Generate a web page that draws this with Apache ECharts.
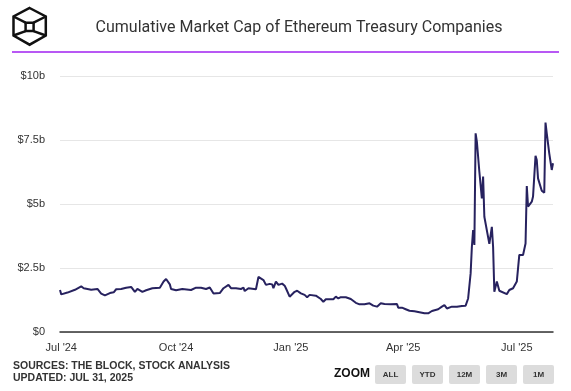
<!DOCTYPE html>
<html>
<head>
<meta charset="utf-8">
<script src="https://cdn.jsdelivr.net/npm/echarts@6/dist/echarts.min.js"></script>
<style>html,body{margin:0;padding:0;background:#fff;}#c{width:571px;height:391px;}</style>
</head>
<body>
<div id="c"></div>
<script>
const dates = [
'2024-06-30','2024-07-01','2024-07-06','2024-07-12','2024-07-17','2024-07-19','2024-07-25','2024-07-30',
'2024-08-02','2024-08-05','2024-08-09','2024-08-12','2024-08-14','2024-08-18','2024-08-22','2024-08-26','2024-08-29','2024-08-31',
'2024-09-04','2024-09-07','2024-09-12','2024-09-18','2024-09-21','2024-09-23','2024-09-26','2024-09-27',
'2024-10-01','2024-10-06','2024-10-13','2024-10-17','2024-10-21','2024-10-25','2024-10-28','2024-10-31',
'2024-11-05','2024-11-08','2024-11-12','2024-11-14','2024-11-18','2024-11-22','2024-11-24','2024-11-25','2024-11-28',
'2024-12-04','2024-12-06','2024-12-10','2024-12-12','2024-12-15','2024-12-17','2024-12-18','2024-12-20','2024-12-22','2024-12-25','2024-12-27','2024-12-28','2024-12-31',
'2025-01-04','2025-01-06','2025-01-09','2025-01-12','2025-01-14','2025-01-16','2025-01-21','2025-01-25','2025-01-27','2025-01-29',
'2025-02-04','2025-02-06','2025-02-08','2025-02-10','2025-02-14','2025-02-18','2025-02-22','2025-02-25',
'2025-03-01','2025-03-05','2025-03-08','2025-03-11','2025-03-14','2025-03-17','2025-03-22','2025-03-27','2025-03-28','2025-03-31',
'2025-04-03','2025-04-06','2025-04-10','2025-04-14','2025-04-18','2025-04-21','2025-04-24','2025-04-25','2025-04-29',
'2025-05-02','2025-05-04','2025-05-06','2025-05-10','2025-05-14','2025-05-15','2025-05-18','2025-05-21','2025-05-23','2025-05-25','2025-05-26','2025-05-27','2025-05-28','2025-05-29','2025-05-30',
'2025-06-01','2025-06-03','2025-06-04','2025-06-05','2025-06-06','2025-06-09','2025-06-11','2025-06-12','2025-06-13','2025-06-15','2025-06-17','2025-06-23','2025-06-25','2025-06-28',
'2025-07-01','2025-07-03','2025-07-06','2025-07-08','2025-07-09','2025-07-10','2025-07-13','2025-07-14','2025-07-16','2025-07-17','2025-07-18','2025-07-21','2025-07-22','2025-07-23','2025-07-24','2025-07-25','2025-07-27','2025-07-29','2025-07-30'
];
const marketCapB = [
1.64,1.47,1.54,1.65,1.78,1.71,1.65,1.68,
1.50,1.43,1.52,1.55,1.67,1.68,1.73,1.76,1.57,1.68,
1.57,1.63,1.71,1.73,1.97,2.07,1.86,1.68,
1.63,1.68,1.64,1.73,1.73,1.68,1.74,1.50,
1.52,1.71,1.84,1.71,1.71,1.68,1.73,1.60,1.71,
1.67,2.15,2.03,1.84,1.88,1.86,1.71,1.97,1.84,1.89,1.81,1.71,1.38,
1.57,1.61,1.51,1.45,1.36,1.45,1.42,1.29,1.18,1.28,
1.28,1.38,1.31,1.36,1.36,1.29,1.14,1.08,
1.08,1.12,1.03,0.99,1.12,1.09,1.08,1.09,0.95,0.95,
0.89,0.83,0.81,0.77,0.73,0.73,0.82,0.89,0.89,
0.99,1.05,0.92,0.99,0.99,0.93,1.02,1.03,1.31,2.29,3.33,3.98,3.40,7.76,7.44,
6.26,5.22,6.07,4.50,4.44,3.44,4.11,3.33,1.57,1.97,1.61,1.48,1.64,1.71,
1.97,3.01,3.01,3.46,5.70,4.90,5.09,5.29,6.88,6.72,6.00,5.52,5.57,5.44,8.18,7.76,6.98,6.33,6.59
];
const xTickDates = ['2024-07-01','2024-10-01','2025-01-01','2025-04-01','2025-07-01'];
const xTickLabels = ["Jul '24","Oct '24","Jan '25","Apr '25","Jul '25"];
const yTickValues = [0, 2.5, 5, 7.5, 10];
const yTickLabels = ['$0','$2.5b','$5b','$7.5b','$10b'];
const xMin = '2024-06-30', xMax = '2025-07-30';

const chart = echarts.init(document.getElementById('c'), null, {renderer:'canvas'});
const pd = s => +echarts.number.parseDate(s);
const tickTs = xTickDates.map(pd);
const seriesData = dates.map((d,i)=>[pd(d), marketCapB[i]]);
const txt = '#333333';
const btn = (x,label)=>[
  {type:'rect', shape:{x:x,y:365,width:31,height:19,r:2}, style:{fill:'#dcdcdc'}},
  {type:'text', x:x+15.5, y:375, style:{text:label, fill:'#333', font:'bold 8px "Liberation Sans", Arial', align:'center', verticalAlign:'middle'}}
];
chart.setOption({
  animation:false,
  backgroundColor:'#fff',
  grid:{left:60, right:18, top:76, bottom:59, containLabel:false},
  xAxis:{
    type:'value', min:pd(xMin), max:pd(xMax),
    axisLine:{show:true, lineStyle:{color:'#333', width:1.5}},
    axisTick:{show:false},
    splitLine:{show:false},
    axisLabel:{
      customValues: tickTs,
      color:txt, fontSize:11, fontFamily:'"Liberation Sans", Arial', margin:10,
      formatter:(v)=>{ const i = tickTs.indexOf(+v); return i>=0 ? xTickLabels[i] : ''; }
    }
  },
  yAxis:{
    type:'value', min:0, max:10, interval:2.5,
    axisLine:{show:false}, axisTick:{show:false},
    splitLine:{lineStyle:{color:'#e6e6e6', width:1}},
    axisLabel:{color:txt, fontSize:11, fontFamily:'"Liberation Sans", Arial', margin:15,
      formatter:(v)=>{ const i = yTickValues.indexOf(v); return i>=0 ? yTickLabels[i] : ''; }}
  },
  series:[{
    type:'line', data:seriesData, showSymbol:false,
    lineStyle:{color:'#27225f', width:2}, itemStyle:{color:'#27225f'}
  }],
  graphic:[
    {type:'text', x:299, y:28, style:{text:'Cumulative Market Cap of Ethereum Treasury Companies', fill:'#333', font:'16px Roboto', align:'center', verticalAlign:'middle'}},
    {type:'line', shape:{x1:12,y1:52,x2:559,y2:52}, style:{stroke:'#a020f0', lineWidth:1.5}},
    {type:'polygon', shape:{points:[[29.6,8],[45.8,16.5],[45.8,35.5],[29.6,44.7],[13.5,35.5],[13.5,16.5]]}, style:{fill:'none', stroke:'#111', lineWidth:2.5}},
    {type:'rect', shape:{x:25.6,y:22.7,width:8,height:8.4}, style:{fill:'none', stroke:'#111', lineWidth:2.5}},
    {type:'line', shape:{x1:13.5,y1:16.5,x2:25.6,y2:22.7}, style:{stroke:'#111', lineWidth:2.5}},
    {type:'line', shape:{x1:45.8,y1:16.5,x2:33.6,y2:22.7}, style:{stroke:'#111', lineWidth:2.5}},
    {type:'line', shape:{x1:13.5,y1:35.5,x2:25.6,y2:31.1}, style:{stroke:'#111', lineWidth:2.5}},
    {type:'line', shape:{x1:45.8,y1:35.5,x2:33.6,y2:31.1}, style:{stroke:'#111', lineWidth:2.5}},
    {type:'text', x:13, y:366, style:{text:'SOURCES: THE BLOCK, STOCK ANALYSIS', fill:'#333', font:'bold 10.5px "Liberation Sans", Arial', verticalAlign:'middle'}},
    {type:'text', x:13, y:378, style:{text:'UPDATED: JUL 31, 2025', fill:'#333', font:'bold 10.5px "Liberation Sans", Arial', verticalAlign:'middle'}},
    {type:'text', x:334, y:374, style:{text:'ZOOM', fill:'#111', font:'bold 12px "Liberation Sans", Arial', verticalAlign:'middle'}},
    ...btn(375,'ALL'), ...btn(412,'YTD'), ...btn(449,'12M'), ...btn(486,'3M'), ...btn(523,'1M')
  ]
});
</script>
</body>
</html>
